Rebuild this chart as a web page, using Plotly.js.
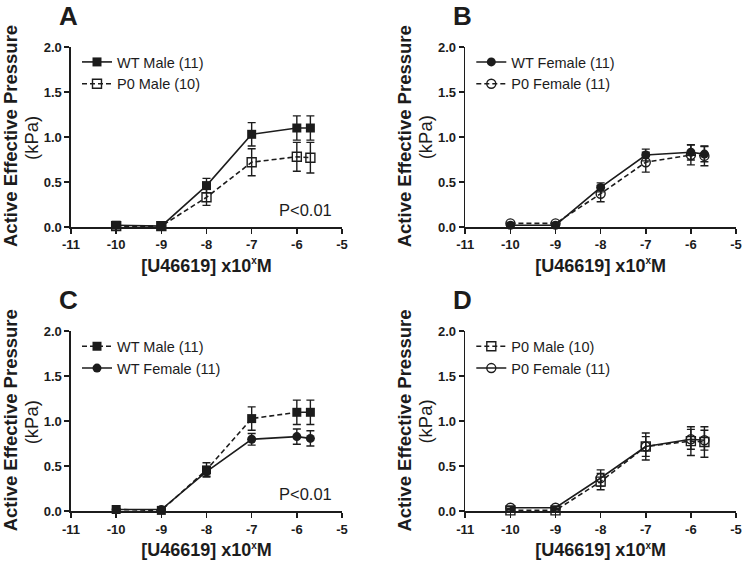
<!DOCTYPE html>
<html>
<head>
<meta charset="utf-8">
<script src="https://cdn.plot.ly/plotly-3.0.1.min.js"></script>
<style>html,body{margin:0;padding:0;background:#fff;}#chart{width:742px;height:564px;}</style>
</head>
<body>
<div id="chart"></div>
<script>
// ---- data (log10 molar concentration of U46619) ----
const conc = [-10, -9, -8, -7, -6, -5.7];

const wtMale      = [0.02, 0.01, 0.46, 1.03, 1.10, 1.10];
const wtMaleErr   = [0.01, 0.01, 0.08, 0.13, 0.135, 0.135];
const p0Male      = [0.01, 0.01, 0.33, 0.72, 0.78, 0.77];
const p0MaleErr   = [0.01, 0.01, 0.09, 0.15, 0.16, 0.17];
const wtFemale    = [0.02, 0.02, 0.44, 0.80, 0.83, 0.81];
const wtFemaleErr = [0.01, 0.01, 0.05, 0.065, 0.085, 0.085];
const p0Female    = [0.04, 0.04, 0.37, 0.72, 0.80, 0.79];
const p0FemaleErr = [0.01, 0.01, 0.09, 0.11, 0.11, 0.11];

const xTickVals = [-11, -10, -9, -8, -7, -6, -5];
const xTickText = ['-11', '-10', '-9', '-8', '-7', '-6', '-5'];
const yTickVals = [0, 0.5, 1.0, 1.5, 2.0];
const yTickText = ['0.0', '0.5', '1.0', '1.5', '2.0'];

const panelLetters = ['A', 'B', 'C', 'D'];
const xTitle = '<b>[U46619] x10<sup><span style="font-size:10px">x</span></sup>M</b>';
const yTitleMain = 'Active Effective Pressure';
const yTitleUnit = '(kPa)';
const pText = 'P<0.01';

// ---- styling ----
const FONT = 'Liberation Sans, Arial, Helvetica, sans-serif';
const INK = '#1c1c1c';
const W = 742, H = 564;

function series(name, y, err, symbol, dash, ax, legend) {
  const open = symbol.indexOf('open') >= 0;
  return {
    type: 'scatter', mode: 'lines+markers', name: name,
    x: conc, y: y,
    xaxis: 'x' + ax, yaxis: 'y' + ax, legend: legend, legendgroup: name + ax,
    cliponaxis: false,
    line: {color: INK, width: 1.6, dash: dash},
    marker: {symbol: symbol, size: 9, color: INK, line: {color: INK, width: open ? 1.4 : 0}},
    error_y: {type: 'data', array: err, visible: true, color: INK, thickness: 1.4, width: 4}
  };
}

const data = [
  series('WT Male (11)', wtMale, wtMaleErr, 'square', 'solid', '', 'legend'),
  series('P0 Male (10)', p0Male, p0MaleErr, 'square-open', '5px,3px', '', 'legend'),
  series('WT Female (11)', wtFemale, wtFemaleErr, 'circle', 'solid', '2', 'legend2'),
  series('P0 Female (11)', p0Female, p0FemaleErr, 'circle-open', '5px,3px', '2', 'legend2'),
  series('WT Male (11)', wtMale, wtMaleErr, 'square', '5px,3px', '3', 'legend3'),
  series('WT Female (11)', wtFemale, wtFemaleErr, 'circle', 'solid', '3', 'legend3'),
  series('P0 Male (10)', p0Male, p0MaleErr, 'square-open', '5px,3px', '4', 'legend4'),
  series('P0 Female (11)', p0Female, p0FemaleErr, 'circle-open', 'solid', '4', 'legend4')
];

// panel frames in pixels: [left, right, top, bottom]
const frames = [
  [71, 342, 47, 227],
  [465.3, 736, 47, 227],
  [71, 342, 331.3, 511.3],
  [465.3, 736, 331.3, 511.3]
];

const layout = {
  width: W, height: H,
  margin: {l: 0, r: 0, t: 0, b: 0},
  paper_bgcolor: '#fff', plot_bgcolor: 'rgba(0,0,0,0)',
  font: {family: FONT, color: INK},
  showlegend: true,
  annotations: []
};

frames.forEach((f, i) => {
  const sfx = i === 0 ? '' : String(i + 1);
  const midY = (f[2] + f[3]) / 2;
  layout['xaxis' + sfx] = {
    domain: [f[0] / W, f[1] / W], anchor: 'y' + sfx,
    range: [-11, -5], tickvals: xTickVals, ticktext: xTickText.map(t => '<b>' + t + '</b>'),
    showline: true, linecolor: INK, linewidth: 1.6,
    ticks: 'outside', ticklen: 5, tickwidth: 1.6, tickcolor: INK,
    showgrid: false, zeroline: false, fixedrange: true,
    tickfont: {family: FONT, size: 13, color: INK},
    title: {text: xTitle, standoff: 8, font: {family: FONT, size: 18, color: INK}}
  };
  layout['yaxis' + sfx] = {
    domain: [1 - f[3] / H, 1 - f[2] / H], anchor: 'x' + sfx,
    range: [0, 2], tickvals: yTickVals, ticktext: yTickText.map(t => '<b>' + t + '</b>'),
    showline: true, linecolor: INK, linewidth: 1.6,
    ticks: 'outside', ticklen: 5, tickwidth: 1.6, tickcolor: INK,
    showgrid: false, zeroline: false, fixedrange: true,
    tickfont: {family: FONT, size: 13, color: INK}
  };
  const lg = i === 0 ? 'legend' : 'legend' + (i + 1);
  layout[lg] = {
    x: (f[0] + 6) / W, xanchor: 'left',
    y: 1 - (f[2] - 1) / H, yanchor: 'top',
    bgcolor: 'rgba(0,0,0,0)', borderwidth: 0,
    font: {family: FONT, size: 14.5, color: INK},
    traceorder: 'grouped', tracegroupgap: 0, itemclick: false, itemdoubleclick: false
  };
  // y-axis title: bold main line
  layout.annotations.push({
    xref: 'paper', yref: 'paper',
    x: (f[0] - 60.5) / W, y: 1 - (midY - 0.5) / H,
    xanchor: 'center', yanchor: 'middle', textangle: -90, showarrow: false,
    text: '<b>' + yTitleMain + '</b>', font: {family: FONT, size: 18.5, color: INK}
  });
  // y-axis title: unit line
  layout.annotations.push({
    xref: 'paper', yref: 'paper',
    x: (f[0] - 39.5) / W, y: 1 - (midY + 0.5) / H,
    xanchor: 'center', yanchor: 'middle', textangle: -90, showarrow: false,
    text: yTitleUnit, font: {family: FONT, size: 18.5, color: INK}
  });
  // panel letter
  layout.annotations.push({
    xref: 'paper', yref: 'paper',
    x: (f[0] - 3) / W, y: 1 - (f[2] - 31) / H,
    xanchor: 'center', yanchor: 'middle', showarrow: false,
    text: '<b>' + panelLetters[i] + '</b>', font: {family: FONT, size: 26, color: INK}
  });
});

// significance labels in panels A and C
[0, 2].forEach(i => {
  const f = frames[i];
  layout.annotations.push({
    xref: 'paper', yref: 'paper',
    x: (f[0] + 234) / W, y: 1 - (f[3] - 17) / H,
    xanchor: 'center', yanchor: 'middle', showarrow: false,
    text: pText, font: {family: FONT, size: 16.5, color: INK}
  });
});

Plotly.newPlot('chart', data, layout, {staticPlot: true, displayModeBar: false});
</script>
</body>
</html>
